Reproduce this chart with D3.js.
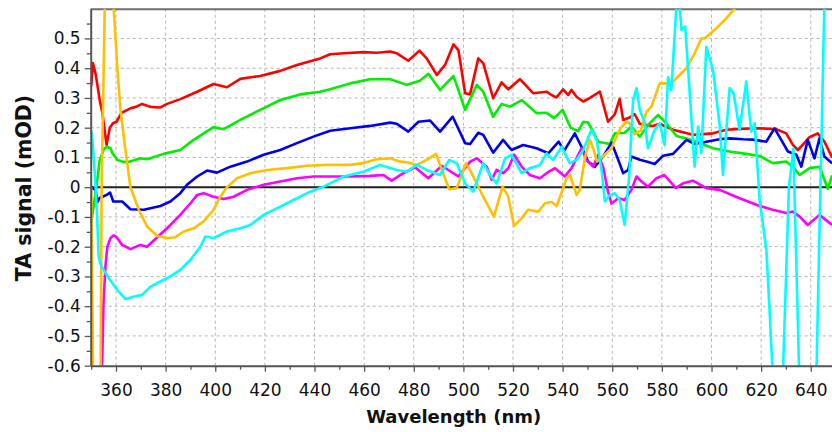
<!DOCTYPE html>
<html><head><meta charset="utf-8">
<script src="https://cdn.jsdelivr.net/npm/d3@7"></script>
<style>
body{margin:0;background:#fff;}
svg{display:block;}
text{font-family:"DejaVu Sans",Verdana,sans-serif;}
</style>
</head><body>
<svg id="c" width="832" height="432"></svg>
<script>
// ---------- data ----------
const xTicks = [360,380,400,420,440,460,480,500,520,540,560,580,600,620,640];
const xMinorTicks = [350,370,390,410,430,450,470,490,510,530,550,570,590,610,630];
const yTicks = [-0.6,-0.5,-0.4,-0.3,-0.2,-0.1,0,0.1,0.2,0.3,0.4,0.5];
const yMinorTicks = [-0.55,-0.45,-0.35,-0.25,-0.15,-0.05,0.05,0.15,0.25,0.35,0.45,0.55];

const red = [[350.0,0.34],[350.7,0.417],[351.8,0.38],[353.5,0.29],[354.5,0.25],[356.2,0.142],[357.5,0.20],[358.8,0.215],[360.2,0.22],[362.2,0.25],[365.8,0.265],[368.0,0.27],[370.5,0.28],[373.9,0.27],[377.9,0.268],[380.6,0.28],[385.9,0.296],[392.7,0.321],[399.3,0.347],[404.7,0.336],[410.1,0.364],[418.1,0.374],[426.2,0.391],[432.9,0.411],[442.3,0.433],[446.3,0.447],[452,0.45],[459.7,0.454],[465,0.452],[470.5,0.456],[473.2,0.45],[477.8,0.425],[482.3,0.459],[485.2,0.433],[489.3,0.377],[492.6,0.411],[496.0,0.48],[498.0,0.461],[500.7,0.316],[502.7,0.312],[506.0,0.433],[508.0,0.417],[512.0,0.299],[515.4,0.352],[518.1,0.329],[522.8,0.363],[528.1,0.316],[533.5,0.321],[535.5,0.31],[537.5,0.302],[540.2,0.329],[542.2,0.31],[543.6,0.327],[545.6,0.304],[548.3,0.288],[551.0,0.30],[555.0,0.321],[558.3,0.22],[561.0,0.245],[563.0,0.297],[564.4,0.226],[567.0,0.234],[569.0,0.246],[571.1,0.213],[573.8,0.209],[576.4,0.206],[579.1,0.213],[584.5,0.193],[592.5,0.176],[600.6,0.181],[606.0,0.193],[611.3,0.196],[619.4,0.198],[626.1,0.195],[630.1,0.181],[632.8,0.142],[634.8,0.125],[639.5,0.168],[642.8,0.181],[645.5,0.153],[648.6,0.10]];

const green = [[350.0,-0.12],[352.1,0.0],[353.4,0.09],[355.2,0.13],[356.5,0.136],[357.8,0.131],[358.5,0.115],[360.5,0.092],[362.5,0.086],[364.5,0.084],[367,0.09],[369.8,0.097],[372.5,0.094],[379.2,0.112],[385.9,0.125],[391.3,0.159],[399.3,0.202],[403.4,0.195],[410.1,0.226],[418.1,0.26],[426.2,0.293],[434.2,0.312],[442.3,0.321],[446.3,0.329],[454.4,0.349],[462.4,0.363],[470.5,0.363],[477.2,0.344],[482.5,0.358],[485.9,0.381],[490.6,0.327],[496.0,0.374],[500.7,0.26],[505.4,0.344],[508.0,0.321],[512.0,0.237],[515.4,0.28],[518.8,0.271],[523.5,0.293],[529.5,0.249],[533.5,0.25],[536.6,0.232],[540.0,0.26],[543.2,0.2],[546.2,0.188],[548.3,0.22],[550.3,0.217],[552.3,0.187],[554.3,0.153],[559.0,0.145],[561.0,0.181],[565.0,0.183],[567.7,0.204],[571.1,0.17],[574.4,0.209],[578.5,0.243],[581.8,0.215],[585.9,0.172],[589.9,0.164],[593.9,0.153],[600.6,0.131],[607.3,0.12],[614.0,0.112],[619.4,0.105],[624.7,0.081],[630.1,0.086],[632.8,0.069],[635.5,0.041],[639.5,0.064],[643.5,0.069],[646.9,-0.005],[648.6,0.04]];

const blue = [[350.0,0.0],[351.8,-0.01],[352.5,-0.05],[353.5,-0.035],[354.6,-0.032],[356.4,-0.025],[357.6,-0.018],[358.9,-0.048],[362.5,-0.048],[365.8,-0.074],[371.2,-0.076],[377.9,-0.063],[381.9,-0.048],[385.9,-0.02],[388.6,0.008],[392.7,0.036],[396.7,0.056],[400.7,0.049],[406.1,0.069],[412.8,0.086],[419.5,0.109],[426.2,0.125],[432.9,0.148],[439.6,0.17],[446.3,0.19],[454.4,0.198],[462.4,0.206],[470.5,0.217],[473.2,0.213],[477.8,0.187],[481.9,0.22],[486.6,0.224],[490.6,0.187],[495.7,0.237],[500.7,0.148],[502.7,0.145],[506.0,0.183],[508.0,0.176],[512.0,0.116],[516.0,0.159],[519.4,0.125],[524.1,0.142],[529.5,0.131],[534.2,0.114],[538.4,0.153],[540.6,0.122],[544.9,0.181],[547.6,0.136],[550.3,0.086],[553.0,0.069],[556.3,0.103],[559.7,0.15],[562.4,0.092],[564.4,0.047],[566.4,0.058],[567.7,0.103],[571.1,0.092],[573.8,0.086],[577.1,0.078],[580.5,0.106],[584.5,0.112],[589.9,0.159],[593.3,0.145],[597.9,0.153],[603.3,0.161],[607.3,0.164],[612.7,0.161],[616.7,0.16],[622.1,0.153],[625.4,0.198],[628.1,0.159],[630.8,0.12],[634.2,0.109],[636.2,0.069],[638.8,0.159],[641.5,0.097],[643.5,0.164],[645.5,0.103],[648.6,0.08]];

const magenta = [[350.0,-1.2],[353.5,-0.9],[354.4,-0.6],[355.0,-0.38],[355.8,-0.26],[356.5,-0.2],[357.8,-0.171],[359.0,-0.162],[360.0,-0.166],[362.5,-0.194],[365.8,-0.208],[369.8,-0.194],[372.5,-0.2],[376.6,-0.168],[380.6,-0.138],[385.9,-0.093],[390.0,-0.054],[392.7,-0.026],[395.3,-0.02],[399.3,-0.032],[403.4,-0.04],[407.4,-0.032],[412.8,-0.009],[419.5,0.008],[426.2,0.019],[432.9,0.03],[439.6,0.036],[446.3,0.036],[454.4,0.036],[462.4,0.038],[467.8,0.041],[471.1,0.022],[475.8,0.047],[480.5,0.067],[485.9,0.03],[491.3,0.072],[498.0,0.036],[502.7,0.086],[505.4,0.097],[509.4,0.069],[511.4,0.025],[513.4,0.058],[516.1,0.047],[518.1,0.064],[520.5,0.109],[523.5,0.069],[526.8,0.041],[530.9,0.03],[533.5,0.047],[536.9,0.064],[540.9,0.036],[543.6,0.064],[547.6,0.131],[549.6,0.092],[552.3,0.069],[554.3,0.109],[556.3,0.069],[558.3,-0.015],[559.7,-0.055],[562.4,-0.037],[565.0,-0.043],[567.7,-0.009],[569.8,0.036],[571.8,0.019],[574.4,0.002],[577.8,0.03],[581.0,0.041],[585.7,-0.003],[588.5,0.013],[592.5,0.022],[597.9,-0.003],[603.3,-0.009],[611.3,-0.037],[619.4,-0.063],[624.7,-0.076],[630.1,-0.087],[632.8,-0.082],[635.5,-0.099],[638.8,-0.127],[643.5,-0.093],[648.6,-0.127]];

const orange = [[350.0,0.0],[350.8,-0.65],[351.5,-0.9],[353.3,-0.9],[353.8,-0.62],[354.2,0.0],[355.5,0.62],[356.5,0.9],[358.2,0.9],[359.1,0.6],[360.5,0.405],[361.8,0.26],[363.8,0.125],[365.8,0.0],[369.2,-0.076],[372.5,-0.132],[376.6,-0.164],[380.6,-0.171],[383.9,-0.168],[387.3,-0.149],[391.3,-0.138],[395.3,-0.115],[399.3,-0.076],[402.0,-0.032],[404.7,0.0],[408.8,0.03],[414.1,0.047],[420.8,0.058],[428.9,0.064],[436.9,0.072],[445.0,0.075],[454.4,0.075],[459.7,0.081],[465.1,0.094],[470.5,0.097],[474.5,0.086],[477.8,0.083],[481.2,0.075],[485.2,0.092],[489.0,0.112],[491.3,0.058],[494.3,-0.007],[497.3,-0.003],[501.1,0.081],[504.0,0.036],[508.0,-0.032],[512.3,-0.099],[515.8,0.002],[518.1,-0.032],[520.4,-0.13],[523.5,-0.104],[526.1,-0.076],[530.2,-0.082],[532.9,-0.054],[535.5,-0.05],[537.6,-0.063],[540.2,-0.003],[541.6,0.03],[543.0,0.041],[545.6,-0.026],[546.9,-0.009],[549.0,0.10],[551.0,0.159],[552.3,0.131],[553.9,0.086],[555.0,0.094],[557.0,0.11],[559.7,0.131],[561.7,0.17],[563.5,0.20],[565.7,0.22],[567.0,0.215],[569.0,0.178],[571.5,0.19],[573.8,0.254],[575.8,0.271],[579.1,0.349],[583.8,0.349],[586.5,0.372],[589.9,0.40],[593.2,0.45],[595.9,0.50],[597.2,0.50],[601.9,0.534],[606.0,0.568],[609.3,0.60],[613.0,0.65],[648.6,0.95]];

const cyan = [[350.0,0.19],[350.4,0.17],[351.0,0.10],[351.7,0.013],[352.4,-0.099],[353.0,-0.233],[353.8,-0.26],[355.8,-0.289],[357.1,-0.306],[360.5,-0.345],[363.8,-0.376],[367.1,-0.368],[370.5,-0.362],[373.9,-0.334],[377.9,-0.317],[381.9,-0.30],[385.9,-0.278],[390.0,-0.244],[394.0,-0.20],[396.0,-0.166],[399.3,-0.171],[404.7,-0.149],[410.1,-0.138],[414.1,-0.127],[419.5,-0.093],[426.2,-0.065],[431.5,-0.043],[438.3,-0.015],[443.6,0.002],[446.3,0.013],[451.7,0.036],[459.7,0.052],[466.4,0.075],[473.2,0.058],[477.2,0.052],[481.2,0.075],[485.2,0.058],[490.6,0.041],[494.3,0.092],[497.3,0.081],[500.7,0.013],[504.0,-0.015],[508.0,0.081],[510.7,0.041],[513.4,0.013],[516.8,0.097],[519.4,0.109],[523.5,0.047],[526.8,0.064],[530.9,0.075],[533.5,0.114],[536.2,0.092],[539.6,0.136],[542.9,0.081],[545.6,0.092],[548.3,0.125],[551.6,0.193],[553.7,0.159],[555.7,0.058],[557.0,-0.048],[559.0,-0.026],[561.0,-0.02],[563.0,-0.043],[565.0,-0.127],[566.8,0.036],[568.4,0.293],[569.8,0.333],[571.1,0.26],[573.1,0.215],[574.4,0.131],[577.1,0.193],[579.1,0.215],[581.1,0.142],[582.5,0.369],[583.8,0.327],[585.8,0.60],[586.8,0.65],[587.9,0.529],[589.4,0.54],[590.5,0.405],[593.2,0.069],[594.6,0.204],[595.9,0.114],[597.9,0.472],[600.6,0.394],[603.3,0.209],[604.6,0.041],[607.3,0.333],[608.9,0.316],[611.3,0.193],[614.0,0.355],[616.0,0.187],[617.4,0.215],[619.4,-0.043],[622.1,-0.211],[623.4,-0.413],[624.6,-0.62],[626.5,-1.0],[628.8,-0.62],[631.2,0.0],[633.0,0.13],[635.3,-0.62],[637.0,-1.0],[642.3,-0.62],[645.5,0.62],[648.6,1.2]];

const seriesNames = ["red","green","blue","magenta","orange","cyan"];
const seriesColors = ["#ff0000","#00ee00","#0000ee","#ff00ff","#ffc000","#00ffff"];
const seriesData = [red, green, blue, magenta, orange, cyan];

// ---------- layout ----------
const L = 90.7, R = 832.1, T = 8.7, B = 365.7;
const svg = d3.select("#c");
const x = d3.scaleLinear().domain([349.8, 648.6]).range([L, R]);
const y = d3.scaleLinear().domain([-0.6, 0.6]).range([B, T]);

svg.append("defs").append("clipPath").attr("id","plot")
  .append("rect").attr("x",L).attr("y",T).attr("width",R-L).attr("height",B-T);

// grid
const grid = svg.append("g").attr("stroke","#b4b4b4").attr("stroke-width",1).attr("stroke-dasharray","3,3");
grid.selectAll("line.v").data(xTicks).join("line").attr("class","v")
  .attr("x1",d=>x(d)).attr("x2",d=>x(d)).attr("y1",T).attr("y2",B);
grid.selectAll("line.h").data(yTicks.filter(d=>d>-0.6)).join("line").attr("class","h")
  .attr("x1",L).attr("x2",R).attr("y1",d=>y(d)).attr("y2",d=>y(d));

// top frame
svg.append("line").attr("x1",L).attr("x2",R).attr("y1",T+0.5).attr("y2",T+0.5)
  .attr("stroke","#6e6e6e").attr("stroke-width",2);

// zero line
svg.append("line").attr("x1",L).attr("x2",R).attr("y1",y(0)).attr("y2",y(0))
  .attr("stroke","#222").attr("stroke-width",2);

// series
const line = d3.line().x(d=>x(d[0])).y(d=>y(d[1]));
const lines = svg.append("g").attr("clip-path","url(#plot)");
seriesData.forEach((data,i)=>{
  lines.append("path").datum(data)
    .attr("fill","none").attr("stroke",seriesColors[i]).attr("stroke-width",2.6)
    .attr("stroke-linejoin","round").attr("d",line);
});

// axes
const fmtY = d => d===0 ? "0" : d.toFixed(1);
svg.append("g").attr("transform",`translate(0,${B})`)
  .call(d3.axisBottom(x).tickValues(xTicks).tickSize(6).tickSizeOuter(0).tickPadding(12).tickFormat(d3.format("d")));
svg.append("g").attr("transform",`translate(0,${B})`)
  .call(d3.axisBottom(x).tickValues(xMinorTicks).tickSize(4).tickSizeOuter(0).tickFormat(""))
  .call(g=>g.select(".domain").remove());
svg.append("g").attr("transform",`translate(${L},0)`)
  .call(d3.axisLeft(y).tickValues(yTicks).tickSize(6).tickSizeOuter(0).tickPadding(4).tickFormat(fmtY));
svg.append("g").attr("transform",`translate(${L},0)`)
  .call(d3.axisLeft(y).tickValues(yMinorTicks).tickSize(4).tickSizeOuter(0).tickFormat(""))
  .call(g=>g.select(".domain").remove());

svg.selectAll(".domain").attr("stroke","#555").attr("stroke-width",2);
svg.selectAll(".tick line").attr("stroke","#555").attr("stroke-width",1.3);
svg.selectAll(".tick text").attr("fill","#111").style("font-size","17px")
  .style("font-family","'DejaVu Sans',Verdana,sans-serif");

// titles
svg.append("text").attr("x",453.7).attr("y",423).attr("text-anchor","middle")
  .style("font-size","18px").style("font-weight","bold").attr("fill","#111")
  .text("Wavelength (nm)");
svg.append("text").attr("transform","translate(31,188) rotate(-90)").attr("text-anchor","middle")
  .style("font-size","20.5px").style("font-weight","bold").attr("fill","#111")
  .text("TA signal (mOD)");
</script>
</body></html>
